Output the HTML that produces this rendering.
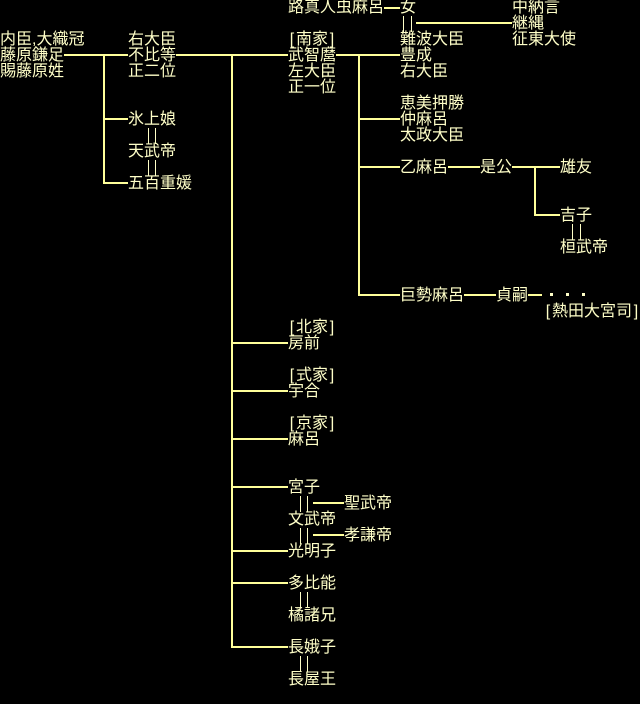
<!DOCTYPE html>
<html><head><meta charset="utf-8">
<style>
html,body{margin:0;padding:0;background:#000;}
body{width:640px;height:704px;position:relative;overflow:hidden;}
.t{position:absolute;color:#ffffc8;font-family:"Liberation Sans","Noto Sans CJK JP",sans-serif;font-size:16px;line-height:16px;white-space:nowrap;letter-spacing:0;}
.b{display:inline-block;width:8px;text-align:center;}
.h{position:absolute;height:2px;background:#ffff9a;}
.v{position:absolute;width:2px;background:#ffff9a;}
.d{position:absolute;width:1px;background:#ffffc8;}
.dot{position:absolute;width:3px;height:3px;background:#ffffc8;}
</style></head><body>
<div class="t" style="left:0;top:32px">内臣,大織冠<br>藤原鎌足<br>賜藤原姓</div>
<div class="h" style="left:64px;top:54px;width:64px"></div>
<div class="v" style="left:103px;top:54px;height:130px"></div>
<div class="t" style="left:128px;top:32px">右大臣<br>不比等<br>正二位</div>
<div class="h" style="left:103px;top:118px;width:25px"></div>
<div class="t" style="left:128px;top:112px">氷上娘</div>
<div class="d" style="left:148px;top:128px;height:16px"></div><div class="d" style="left:155px;top:128px;height:16px"></div>
<div class="t" style="left:128px;top:144px">天武帝</div>
<div class="d" style="left:148px;top:160px;height:16px"></div><div class="d" style="left:155px;top:160px;height:16px"></div>
<div class="t" style="left:128px;top:176px">五百重媛</div>
<div class="h" style="left:103px;top:182px;width:25px"></div>

<div class="h" style="left:176px;top:54px;width:112px"></div>
<div class="v" style="left:231px;top:54px;height:594px"></div>

<div class="t" style="left:288px;top:0">路真人虫麻呂</div>
<div class="h" style="left:384px;top:7px;width:16px"></div>
<div class="t" style="left:400px;top:0">女</div>
<div class="d" style="left:403px;top:16px;height:16px"></div><div class="d" style="left:411px;top:16px;height:16px"></div>
<div class="h" style="left:416px;top:22px;width:96px"></div>
<div class="t" style="left:512px;top:0">中納言<br>継縄<br>征東大使</div>
<div class="t" style="left:400px;top:32px">難波大臣<br>豊成<br>右大臣</div>
<div class="t" style="left:288px;top:32px"><span class="b">[</span>南家<span class="b">]</span><br>武智麿<br>左大臣<br>正一位</div>
<div class="h" style="left:336px;top:54px;width:64px"></div>
<div class="v" style="left:358px;top:54px;height:242px"></div>
<div class="h" style="left:358px;top:118px;width:42px"></div>
<div class="t" style="left:400px;top:96px">恵美押勝<br>仲麻呂<br>太政大臣</div>
<div class="h" style="left:358px;top:166px;width:42px"></div>
<div class="t" style="left:400px;top:160px">乙麻呂</div>
<div class="h" style="left:448px;top:166px;width:32px"></div>
<div class="t" style="left:480px;top:160px">是公</div>
<div class="h" style="left:512px;top:166px;width:48px"></div>
<div class="t" style="left:560px;top:160px">雄友</div>
<div class="v" style="left:534px;top:166px;height:50px"></div>
<div class="h" style="left:534px;top:214px;width:26px"></div>
<div class="t" style="left:560px;top:208px">吉子</div>
<div class="d" style="left:572px;top:224px;height:16px"></div><div class="d" style="left:580px;top:224px;height:16px"></div>
<div class="t" style="left:560px;top:240px">桓武帝</div>
<div class="h" style="left:358px;top:294px;width:42px"></div>
<div class="t" style="left:400px;top:288px">巨勢麻呂</div>
<div class="h" style="left:464px;top:294px;width:32px"></div>
<div class="t" style="left:496px;top:288px">貞嗣</div>
<div class="h" style="left:528px;top:294px;width:14px"></div>
<div class="dot" style="left:550px;top:293px"></div>
<div class="dot" style="left:566px;top:293px"></div>
<div class="dot" style="left:582px;top:293px"></div>
<div class="t" style="left:544px;top:304px"><span class="b">[</span>熱田大宮司<span class="b">]</span></div>

<div class="t" style="left:288px;top:320px"><span class="b">[</span>北家<span class="b">]</span><br>房前</div>
<div class="h" style="left:231px;top:342px;width:57px"></div>
<div class="t" style="left:288px;top:368px"><span class="b">[</span>式家<span class="b">]</span><br>宇合</div>
<div class="h" style="left:231px;top:390px;width:57px"></div>
<div class="t" style="left:288px;top:416px"><span class="b">[</span>京家<span class="b">]</span><br>麻呂</div>
<div class="h" style="left:231px;top:438px;width:57px"></div>

<div class="t" style="left:288px;top:480px">宮子</div>
<div class="h" style="left:231px;top:486px;width:57px"></div>
<div class="d" style="left:300px;top:496px;height:16px"></div><div class="d" style="left:307px;top:496px;height:16px"></div>
<div class="h" style="left:313px;top:502px;width:31px"></div>
<div class="t" style="left:344px;top:496px">聖武帝</div>
<div class="t" style="left:288px;top:512px">文武帝</div>
<div class="d" style="left:300px;top:528px;height:16px"></div><div class="d" style="left:307px;top:528px;height:16px"></div>
<div class="h" style="left:313px;top:534px;width:31px"></div>
<div class="t" style="left:344px;top:528px">孝謙帝</div>
<div class="t" style="left:288px;top:544px">光明子</div>
<div class="h" style="left:231px;top:550px;width:57px"></div>

<div class="t" style="left:288px;top:576px">多比能</div>
<div class="h" style="left:231px;top:582px;width:57px"></div>
<div class="d" style="left:300px;top:592px;height:16px"></div><div class="d" style="left:307px;top:592px;height:16px"></div>
<div class="t" style="left:288px;top:608px">橘諸兄</div>

<div class="t" style="left:288px;top:640px">長娥子</div>
<div class="h" style="left:231px;top:646px;width:57px"></div>
<div class="d" style="left:300px;top:656px;height:16px"></div><div class="d" style="left:307px;top:656px;height:16px"></div>
<div class="t" style="left:288px;top:672px">長屋王</div>
</body></html>
